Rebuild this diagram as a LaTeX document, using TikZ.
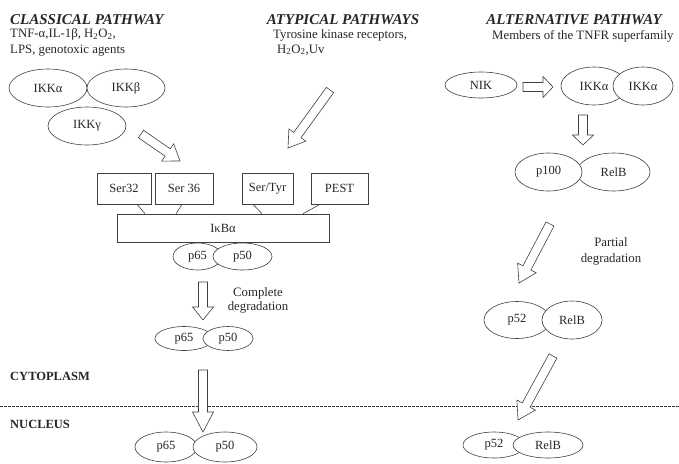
\documentclass[tikz,border=0pt]{standalone}
\usepackage{fontspec}
\setmainfont{Liberation Serif}
\usetikzlibrary{calc,shapes.geometric}

% hollow block arrow: [head length]{tail}{tip}
\newcommand{\fatarrow}[3][16]{%
  \draw[fatline] ($(#2)!4.5pt!90:(#3)$)
    -- ($(#3)!#1pt!(#2)!4.5pt!90:(#3)$)
    -- ($(#3)!#1pt!(#2)!10.5pt!90:(#3)$)
    -- (#3)
    -- ($(#3)!#1pt!(#2)!10.5pt!-90:(#3)$)
    -- ($(#3)!#1pt!(#2)!4.5pt!-90:(#3)$)
    -- ($(#2)!4.5pt!-90:(#3)$) -- cycle;}

\begin{document}
\begin{tikzpicture}[x=1pt,y=-1pt,
  prot/.style={ellipse,draw=black!75,fill=white,line width=0.6pt,inner sep=0pt,text=black!85,font=\fontsize{12.5}{14}\selectfont},
  sz/.style 2 args={minimum width=#1pt,minimum height=#2pt},
  site/.style={rectangle,draw=black!75,line width=0.6pt,inner sep=0pt,minimum height=31pt,text=black!85,font=\fontsize{12.5}{14}\selectfont},
  title/.style={inner sep=0pt,text=black!85,font=\fontsize{15}{17}\selectfont\bfseries\itshape},
  txt/.style={inner sep=0pt,text=black!85,font=\fontsize{12.8}{15}\selectfont},
  link/.style={draw=black!75,line width=0.6pt},
  fatline/.style={draw=black!75,line width=0.6pt,fill=white,line join=miter},
  membrane/.style={draw=black!80,line width=0.6pt,dash pattern=on 3pt off 1pt}]

  \useasboundingbox (0,0) rectangle (679,463);

  % headings
  \node[title,anchor=west] (classical) at (10,20) {CLASSICAL PATHWAY};
  \node[txt,anchor=north west,align=left,font=\fontsize{12.8}{16}\selectfont] (clstim) at (10,28)
    {TNF-α,IL-1β, H\textsubscript{2}O\textsubscript{2},\\LPS, genotoxic agents};
  \node[title] (atypical) at (343,20) {ATYPICAL PATHWAYS};
  \node[txt,anchor=north west,align=left] (atstim) at (273,29)
    {Tyrosine kinase receptors,\\\hspace*{4pt}H\textsubscript{2}O\textsubscript{2},Uv};
  \node[title] (alternative) at (574,20) {ALTERNATIVE PATHWAY};
  \node[txt,anchor=west] (alstim) at (492,36) {Members of the TNFR superfamily};

  % classical pathway
  \node[prot,sz={78}{38}] (ikkg) at (87,126) {IKKγ};
  \node[prot,sz={78}{38}] (ikka) at (48,88) {IKKα};
  \node[prot,sz={78}{38}] (ikkb) at (126,88) {IKKβ};

  \node[site,minimum width=54pt] (ser32) at (124,188.5) {Ser32};
  \node[site,minimum width=58pt] (ser36) at (184,188.5) {Ser 36};
  \node[site,minimum width=51pt] (sertyr) at (267.5,188.5) {Ser/Tyr};
  \node[site,minimum width=57pt] (pest) at (339.5,188.5) {PEST};
  \node[site,minimum width=212pt,minimum height=28pt] (ikb) at (223,228) {IκBα};
  \draw[link] ([xshift=13pt]ser32.south) -- ([xshift=-78pt]ikb.north);
  \draw[link] ([xshift=-2pt]ser36.south) -- ([xshift=-47pt]ikb.north);
  \draw[link] ([xshift=-14.5pt]sertyr.south) -- ([xshift=39pt]ikb.north);
  \draw[link] ([xshift=-19.5pt]pest.south) -- ([xshift=80pt]ikb.north);

  \node[prot,sz={49}{27}] (p65a) at (197.5,256.5) {p65};
  \node[prot,sz={59}{27}] (p50a) at (242.5,256.5) {p50};
  \node[txt,align=center,font=\fontsize{12.8}{14}\selectfont] (complete) at (258,300) {Complete\\degradation};
  \node[prot,sz={58}{24}] (p65b) at (184,338.5) {p65};
  \node[prot,sz={50}{24}] (p50b) at (228,338.5) {p50};

  % compartments
  \node[txt,anchor=west,font=\fontsize{12.5}{14}\selectfont\bfseries] (cyto) at (10,376) {CYTOPLASM};
  \node[txt,anchor=west,font=\fontsize{12.5}{14}\selectfont\bfseries] (nucleus) at (10,424) {NUCLEUS};
  \coordinate (mleft) at (0,406);
  \coordinate (mright) at (679,406);
  \draw[membrane] (mleft) -- (mright);

  \node[prot,sz={62}{30}] (p65c) at (166,447) {p65};
  \node[prot,sz={64}{30}] (p50c) at (225,447) {p50};

  % alternative pathway
  \node[prot,sz={72}{26}] (nik) at (481,85) {NIK};
  \node[prot,sz={66}{38}] (ikka1) at (594,86) {IKKα};
  \node[prot,sz={60}{38}] (ikka2) at (643,86) {IKKα};
  \node[prot,sz={73}{38}] (relb1) at (613.5,172) {RelB};
  \node[prot,sz={67}{38}] (p100) at (548.5,172) {p100};
  \node[txt,align=center,font=\fontsize{12.8}{16}\selectfont] (partial) at (611,251) {Partial\\degradation};
  \node[prot,sz={66}{37}] (p52a) at (517,320) {p52};
  \node[prot,sz={60}{38}] (relb2) at (572,320) {RelB};
  \node[prot,sz={62}{26}] (p52b) at (494,445) {p52};
  \node[prot,sz={70}{26}] (relb3) at (548,445) {RelB};

  % block arrows
  \coordinate (a1s) at (141,134);  \coordinate (a1e) at (180,161);
  \coordinate (a2s) at (330,90);   \coordinate (a2e) at (288,148);
  \coordinate (a3s) at (203,282);  \coordinate (a3e) at (203,320);
  \coordinate (a4s) at (203,370);  \coordinate (a4e) at (203,432);
  \coordinate (a5s) at (523,87);   \coordinate (a5e) at (553,87);
  \coordinate (a6s) at (583,115);  \coordinate (a6e) at (583,145);
  \coordinate (a7s) at (550,224);  \coordinate (a7e) at (519,283);
  \coordinate (a8s) at (553,356);  \coordinate (a8e) at (518,420);
  \fatarrow[15]{a1s}{a1e}
  \fatarrow[16]{a2s}{a2e}
  \fatarrow[13]{a3s}{a3e}
  \fatarrow[20]{a4s}{a4e}
  \fatarrow[10]{a5s}{a5e}
  \fatarrow[10]{a6s}{a6e}
  \fatarrow[17]{a7s}{a7e}
  \fatarrow[17]{a8s}{a8e}
\end{tikzpicture}
\end{document}
